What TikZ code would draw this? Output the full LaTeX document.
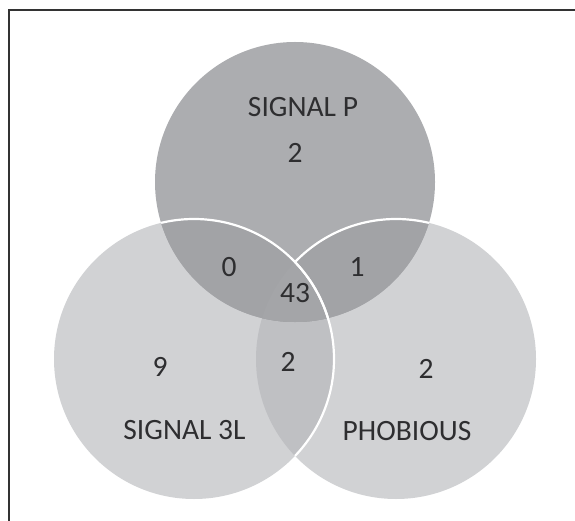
\documentclass[tikz,border=0pt]{standalone}
\usepackage{fontspec}
\setmainfont{Carlito}
\definecolor{frameline}{HTML}{333333}
\definecolor{txt}{HTML}{2E2E30}
\definecolor{sideset}{HTML}{D1D2D4}
\definecolor{topset}{HTML}{ACADB0}
\definecolor{toppair}{HTML}{A2A3A6}
\definecolor{core}{HTML}{A4A5A8}
\definecolor{lowpair}{HTML}{BFC0C3}
\tikzset{
  lbl/.style={inner sep=0pt, text=txt, font=\fontsize{29.5}{34}\selectfont},
  rim/.style={draw=white, line width=2.2pt}
}
\begin{document}
\begin{tikzpicture}[x=1pt,y=-1pt]
\useasboundingbox (0,0) rectangle (575,521);
\coordinate (cT) at (295,182);
\coordinate (cL) at (194,359);
\coordinate (cR) at (396,359);
\def\rr{140pt}

% single-set areas
\fill[sideset] (cL) circle[radius=\rr];
\fill[sideset] (cR) circle[radius=\rr];
% lower pair
\begin{scope}
  \clip (cL) circle[radius=\rr];
  \fill[lowpair] (cR) circle[radius=\rr];
\end{scope}
% top set
\fill[topset] (cT) circle[radius=\rr];
\begin{scope}
  \clip (cT) circle[radius=\rr];
  \fill[toppair] (cL) circle[radius=\rr];
  \fill[toppair] (cR) circle[radius=\rr];
  \clip (cL) circle[radius=\rr];
  \fill[core] (cR) circle[radius=\rr];
\end{scope}

% white rims
\begin{scope}
  \clip (cT) circle[radius=\rr];
  \draw[rim] (cL) circle[radius=\rr];
\end{scope}
\begin{scope}
  \clip (cR) circle[radius=\rr];
  \draw[rim] (cL) circle[radius=\rr];
\end{scope}
\begin{scope}[even odd rule]
  \clip (cT) circle[radius=\rr];
  \clip (0,0) rectangle (575,521) (cL) circle[radius=\rr];
  \draw[rim] (cR) circle[radius=\rr];
\end{scope}

% frame
\draw[frameline, line width=1.5pt] (575,10) -- (9,10) -- (9,521);

% labels
\node[lbl] (nameP) at (303,107) {SIGNAL P};
\node[lbl] (onlyP) at (295,153) {2};
\node[lbl] (pl) at (229,267) {0};
\node[lbl] (pr) at (357,267) {1};
\node[lbl] (all) at (295,293) {43};
\node[lbl] (lr) at (288,362) {2};
\node[lbl] (onlyL) at (160,367) {9};
\node[lbl] (onlyR) at (426,369) {2};
\node[lbl] (nameL) at (184.5,430) {SIGNAL 3L};
\node[lbl] (nameR) at (407,431) {PHOBIOUS};
\end{tikzpicture}
\end{document}
